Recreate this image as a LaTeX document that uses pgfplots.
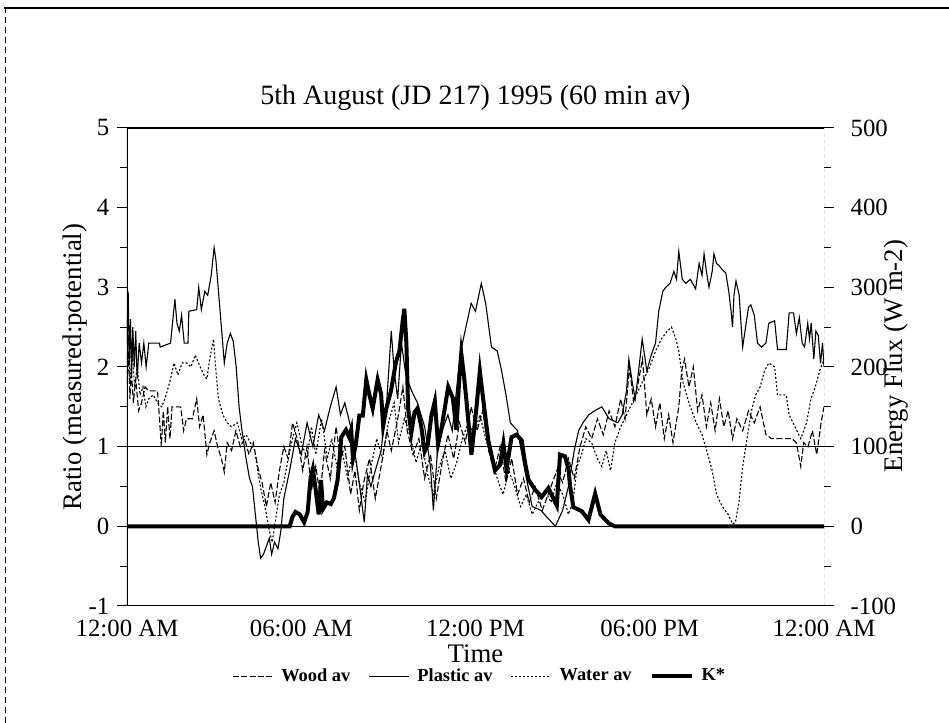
\documentclass[border=0pt]{standalone}
\usepackage{fontspec}
\setmainfont{Liberation Serif}
\usepackage{pgfplots}
\usepackage{pgfplotstable}
\pgfplotsset{compat=1.18}

% hour of day, ratio measured:potential
\pgfplotstableread{
h r
0.00 2.30
0.04 2.95
0.08 2.05
0.12 2.60
0.16 1.90
0.20 2.50
0.25 2.00
0.30 2.45
0.35 1.85
0.42 2.30
0.50 2.05
0.58 2.30
0.66 2.00
0.75 2.30
0.90 2.30
1.12 2.30
1.14 2.25
1.50 2.30
1.58 2.60
1.65 2.85
1.72 2.55
1.80 2.45
1.88 2.65
1.97 2.30
2.10 2.30
2.13 2.70
2.40 2.72
2.47 3.00
2.56 2.72
2.68 2.95
2.78 2.90
2.90 3.15
3.00 3.50
3.06 3.35
3.15 2.95
3.25 2.50
3.35 2.05
3.45 2.30
3.56 2.42
3.66 2.32
3.76 2.00
3.86 1.50
3.96 1.20
4.10 0.85
4.22 0.60
4.32 0.50
4.42 0.15
4.52 -0.20
4.60 -0.40
4.70 -0.35
4.80 -0.25
4.90 -0.15
4.98 -0.35
5.08 -0.20
5.20 -0.28
5.30 -0.05
5.40 0.35
5.60 0.70
5.80 1.10
6.00 0.90
6.20 1.30
6.40 1.00
6.60 1.40
6.80 1.20
7.00 1.50
7.20 1.75
7.35 1.40
7.50 1.55
7.70 1.25
7.90 0.80
8.05 0.40
8.17 0.05
8.28 0.65
8.40 0.50
8.55 0.70
8.75 0.95
8.95 1.60
9.10 2.45
9.20 1.95
9.32 1.60
9.45 2.30
9.60 1.90
9.80 1.70
10.00 1.55
10.25 1.25
10.45 0.75
10.55 0.20
10.70 1.00
10.85 1.20
11.05 1.40
11.20 1.20
11.40 1.90
11.55 2.30
11.70 2.55
11.85 2.80
12.00 2.70
12.20 3.05
12.35 2.80
12.55 2.25
12.75 2.20
12.90 1.95
13.05 1.65
13.20 1.30
13.45 1.20
13.70 0.70
13.95 0.25
14.25 0.20
14.50 0.10
14.75 0.00
15.00 0.20
15.20 0.50
15.40 0.95
15.55 1.20
15.70 1.30
15.90 1.40
16.10 1.45
16.35 1.50
16.60 1.35
16.90 1.30
17.05 1.40
17.20 1.70
17.28 2.10
17.40 1.80
17.50 1.60
17.60 1.90
17.74 2.35
17.90 1.95
18.05 2.15
18.20 2.30
18.31 2.70
18.45 2.95
18.55 3.00
18.70 3.05
18.83 3.20
18.92 3.10
19.00 3.45
19.12 3.10
19.24 3.05
19.40 3.10
19.58 2.98
19.70 3.30
19.80 3.15
19.87 3.42
19.95 3.20
20.04 3.00
20.15 3.20
20.21 3.42
20.30 3.30
20.39 3.27
20.50 3.22
20.62 3.18
20.72 2.95
20.80 2.70
20.85 2.50
20.90 2.90
20.97 3.08
21.08 2.90
21.15 2.50
21.20 2.25
21.30 2.50
21.40 2.75
21.48 2.78
21.60 2.65
21.71 2.30
21.85 2.25
22.00 2.30
22.10 2.55
22.30 2.58
22.40 2.22
22.70 2.22
22.80 2.68
22.95 2.68
23.05 2.42
23.15 2.62
23.25 2.30
23.33 2.25
23.44 2.55
23.50 2.35
23.56 2.55
23.65 2.10
23.72 2.45
23.80 2.40
23.88 2.05
23.95 2.30
24.00 2.00
}\plastic

\pgfplotstableread{
h r
0.00 1.80
0.05 2.20
0.10 1.60
0.15 1.95
0.22 1.55
0.30 1.85
0.40 1.45
0.50 1.55
0.62 1.75
0.75 1.70
1.05 1.70
1.12 1.35
1.18 1.00
1.25 1.45
1.32 1.05
1.40 1.50
1.48 1.10
1.55 1.50
1.85 1.50
1.95 1.20
2.05 1.35
2.25 1.35
2.40 1.60
2.50 1.25
2.62 1.40
2.75 0.90
2.85 1.05
3.00 1.20
3.12 1.00
3.25 0.85
3.35 0.68
3.45 1.05
3.60 0.95
3.75 1.20
3.90 1.00
4.05 1.10
4.20 0.90
4.35 1.05
4.50 0.75
4.65 0.55
4.80 0.25
4.95 0.55
5.10 0.30
5.25 0.70
5.40 1.00
5.55 0.85
5.70 1.30
5.90 1.05
6.05 0.70
6.20 1.00
6.35 0.45
6.50 0.75
6.65 0.40
6.80 0.95
7.00 0.60
7.20 1.25
7.35 0.85
7.50 1.00
7.70 0.40
7.85 0.70
8.00 0.20
8.15 0.55
8.35 0.85
8.55 0.35
8.75 0.75
8.95 1.20
9.10 0.95
9.30 1.30
9.50 1.75
9.65 1.20
9.85 0.90
10.05 1.10
10.25 0.60
10.45 0.90
10.65 0.35
10.85 0.80
11.05 1.15
11.25 0.85
11.45 1.30
11.65 1.05
11.85 1.50
12.05 1.20
12.25 1.45
12.45 0.95
12.65 0.70
12.85 1.00
13.05 0.55
13.25 0.85
13.45 0.40
13.65 0.60
13.85 0.30
14.05 0.50
14.30 0.20
14.55 0.45
14.80 0.70
15.00 0.55
15.20 0.85
15.40 0.60
15.60 1.00
15.80 1.25
16.00 1.10
16.20 1.35
16.40 1.15
16.60 1.45
16.80 1.25
17.00 1.60
17.15 1.35
17.30 2.00
17.45 1.55
17.60 1.80
17.75 2.10
17.90 1.40
18.05 1.60
18.20 1.25
18.35 1.55
18.50 1.10
18.65 1.40
18.80 1.05
19.00 1.50
19.10 1.95
19.20 2.10
19.35 1.75
19.50 2.00
19.65 1.45
19.80 1.65
19.95 1.25
20.10 1.55
20.25 1.20
20.40 1.60
20.55 1.25
20.70 1.45
20.85 1.10
21.00 1.35
21.20 1.20
21.40 1.45
21.60 1.30
21.80 1.50
22.00 1.15
22.20 1.10
22.90 1.10
23.05 1.05
23.20 0.75
23.30 1.05
23.45 1.00
23.60 1.20
23.75 0.90
23.90 1.30
24.00 1.50
}\wood

\pgfplotstableread{
h r
0.00 2.00
0.05 2.40
0.10 1.80
0.18 2.20
0.26 1.75
0.35 2.00
0.45 1.65
0.55 1.75
0.65 1.50
0.75 1.60
0.90 1.65
1.05 1.55
1.20 1.50
1.35 1.65
1.50 1.85
1.62 2.05
1.75 1.90
1.90 2.05
2.06 2.05
2.20 2.00
2.35 2.15
2.52 2.00
2.65 1.90
2.75 1.85
2.85 2.10
2.98 2.35
3.05 2.00
3.15 1.60
3.30 1.40
3.45 1.30
3.60 1.25
3.80 1.30
3.95 1.10
4.10 1.15
4.25 1.05
4.40 0.95
4.50 0.70
4.62 0.45
4.75 0.25
4.90 -0.05
5.00 -0.20
5.10 0.05
5.25 0.40
5.40 0.55
5.55 0.85
5.70 1.10
5.85 1.30
6.00 1.05
6.20 0.85
6.35 1.25
6.50 0.90
6.70 1.35
6.90 0.85
7.05 1.10
7.25 0.70
7.40 0.95
7.60 0.60
7.80 1.00
8.00 0.55
8.20 0.30
8.40 0.75
8.60 1.10
8.80 0.85
9.00 1.30
9.20 1.55
9.35 1.05
9.55 1.35
9.75 1.15
9.95 0.80
10.15 1.05
10.35 0.65
10.55 0.40
10.75 0.75
10.95 0.95
11.15 0.60
11.35 0.80
11.55 1.10
11.75 1.30
11.95 1.15
12.15 1.40
12.35 1.10
12.55 0.85
12.75 0.60
12.95 0.40
13.15 0.70
13.35 0.50
13.55 0.25
13.75 0.40
13.95 0.15
14.15 0.30
14.40 0.45
14.60 0.30
14.80 0.55
15.00 0.40
15.20 0.15
15.35 0.30
15.50 0.75
15.65 0.90
15.80 1.10
16.00 1.05
16.20 0.85
16.35 0.75
16.50 0.95
16.65 0.70
16.80 1.05
17.00 1.25
17.20 1.40
17.40 1.55
17.60 1.70
17.80 1.85
18.00 2.00
18.20 2.20
18.40 2.35
18.60 2.45
18.75 2.50
18.90 2.35
19.00 2.20
19.15 1.80
19.35 1.55
19.60 1.30
19.80 1.15
20.00 0.90
20.15 0.70
20.30 0.40
20.50 0.25
20.70 0.15
20.85 0.03
20.95 0.05
21.07 0.30
21.20 0.75
21.35 1.10
21.50 1.45
21.65 1.65
21.80 1.75
21.95 1.95
22.10 2.05
22.30 2.00
22.40 1.65
22.70 1.65
22.80 1.40
23.00 1.25
23.20 1.10
23.40 1.30
23.55 1.60
23.70 1.75
23.85 1.95
24.00 2.10
}\water

% net shortwave, W m-2
\pgfplotstableread{
h k
0.00 0
5.60 0
5.70 12
5.80 18
5.95 15
6.10 5
6.22 18
6.32 60
6.40 72
6.50 45
6.60 15
6.68 58
6.75 22
6.88 30
7.02 28
7.13 36
7.25 58
7.32 85
7.38 112
7.54 121
7.65 112
7.72 121
7.78 85
7.88 103
8.00 139
8.12 139
8.24 184
8.34 166
8.46 148
8.63 184
8.75 166
8.82 126
8.93 148
9.09 170
9.26 206
9.38 220
9.50 260
9.55 273
9.62 230
9.68 148
9.79 117
9.90 143
10.00 148
10.13 126
10.25 94
10.36 103
10.48 139
10.60 157
10.71 103
10.82 121
10.95 150
11.06 175
11.22 161
11.34 121
11.45 190
11.51 217
11.60 190
11.69 157
11.86 90
12.03 148
12.15 195
12.26 161
12.44 108
12.67 70
12.84 77
12.96 104
13.07 72
13.24 112
13.41 115
13.59 108
13.70 81
13.82 59
14.05 46
14.28 37
14.51 48
14.80 26
14.91 90
15.08 88
15.20 72
15.26 50
15.37 24
15.66 19
15.89 8
16.12 41
16.30 15
16.58 4
16.80 0
24.00 0
}\kstar

\pgfplotsset{
  woodline/.style={black, line width=0.55pt, dash pattern=on 3pt off 1.2pt},
  plasticline/.style={black, line width=0.55pt},
  waterline/.style={black, line width=0.55pt, dash pattern=on 1pt off 1pt},
  kline/.style={black, line width=2pt},
  frame/.style={
    scale only axis, width=348.5pt, height=239pt,
    at={(63.5pt,58.5pt)}, anchor=south west,
    xmin=0, xmax=24,
    axis line style={draw=none},
    tick align=outside,
    major tick length=5pt, minor tick length=3.5pt,
    tick style={black, line width=0.5pt},
    /pgf/number format/assume math mode=true,
    ticklabel style={font=\fontsize{12.4}{14}\selectfont, inner sep=0pt},
    label style={font=\fontsize{13.4}{15}\selectfont, inner sep=0pt},
    every axis title shift=0pt,
  },
}

\begin{document}
\begin{tikzpicture}
\useasboundingbox (0,0) rectangle (474.5pt,361.5pt);
\draw[line width=1pt] (2pt,357.5pt) -- (474.5pt,357.5pt);
\draw[line width=0.5pt, dash pattern=on 3pt off 2pt] (2.5pt,0pt) -- (2.5pt,357.5pt);

\begin{axis}[frame,
  ymin=-1, ymax=5,
  xtick={0,6,12,18,24},
  xticklabels={12:00 AM,06:00 AM,12:00 PM,06:00 PM,12:00 AM},
  x tick style={draw=none},
  xtick pos=bottom,
  xticklabel style={yshift=-1.6pt},
  ytick={-1,0,1,2,3,4,5},
  minor ytick={-0.5,0.5,1.5,2.5,3.5,4.5},
  ytick pos=left,
  yticklabel style={xshift=-3.6pt},
  xlabel={Time},
  xlabel style={at={(rel axis cs:0.5,-0.1)}, anchor=center},
  ylabel={Ratio (measured:potential)},
  ylabel style={at={(rel axis cs:-0.075,0.5)}, anchor=center},
  title={5th August (JD 217) 1995 (60 min av)},
  title style={at={(rel axis cs:0.5,1.063)}, anchor=center, font=\fontsize{14}{16}\selectfont},
]
\addplot[black, line width=0.6pt] coordinates {(0,1) (24,1)};
\addplot[black, line width=0.8pt] coordinates {(0,0) (24,0)};
\addplot[woodline] table[x=h, y=r] {\wood};
\addplot[waterline] table[x=h, y=r] {\water};
\addplot[plasticline] table[x=h, y=r] {\plastic};
\draw[black, line width=1pt] (rel axis cs:0,1) -- (rel axis cs:1,1);
\draw[black, line width=1pt] (rel axis cs:0,0) -- (rel axis cs:1,0);
\draw[black, line width=0.7pt] (rel axis cs:0,0) -- (rel axis cs:0,1);
\end{axis}

\begin{axis}[frame,
  ymin=-100, ymax=500,
  xtick=\empty,
  ytick={-100,0,100,200,300,400,500},
  minor ytick={-50,50,150,250,350,450},
  ytick pos=right,
  yticklabel style={xshift=8.1pt},
  ylabel={Energy Flux (W m-2)},
  ylabel style={at={(rel axis cs:1.104,0.523)}, anchor=center},
  legend style={at={(rel axis cs:0.506,-0.147)}, anchor=center, draw=none,
    fill=none, inner sep=0pt,
    nodes={inner sep=1pt},
    font=\bfseries\fontsize{9.2}{11}\selectfont,
    /tikz/every odd column/.append style={column sep=3pt},
    /tikz/every even column/.append style={column sep=8pt}},
  legend columns=4,
  legend image code/.code={\draw[#1] (0pt,0pt) -- (20pt,0pt);},
]
\addlegendimage{woodline}
\addlegendentry{Wood av}
\addlegendimage{plasticline}
\addlegendentry{Plastic av}
\addlegendimage{waterline}
\addlegendentry{Water av}
\addplot[kline] table[x=h, y=k] {\kstar};
\addlegendentry{K*}
\draw[black!80, line width=0.5pt, dash pattern=on 2pt off 1.5pt] (rel axis cs:1,0) -- (rel axis cs:1,1);
\end{axis}
\end{tikzpicture}
\end{document}
